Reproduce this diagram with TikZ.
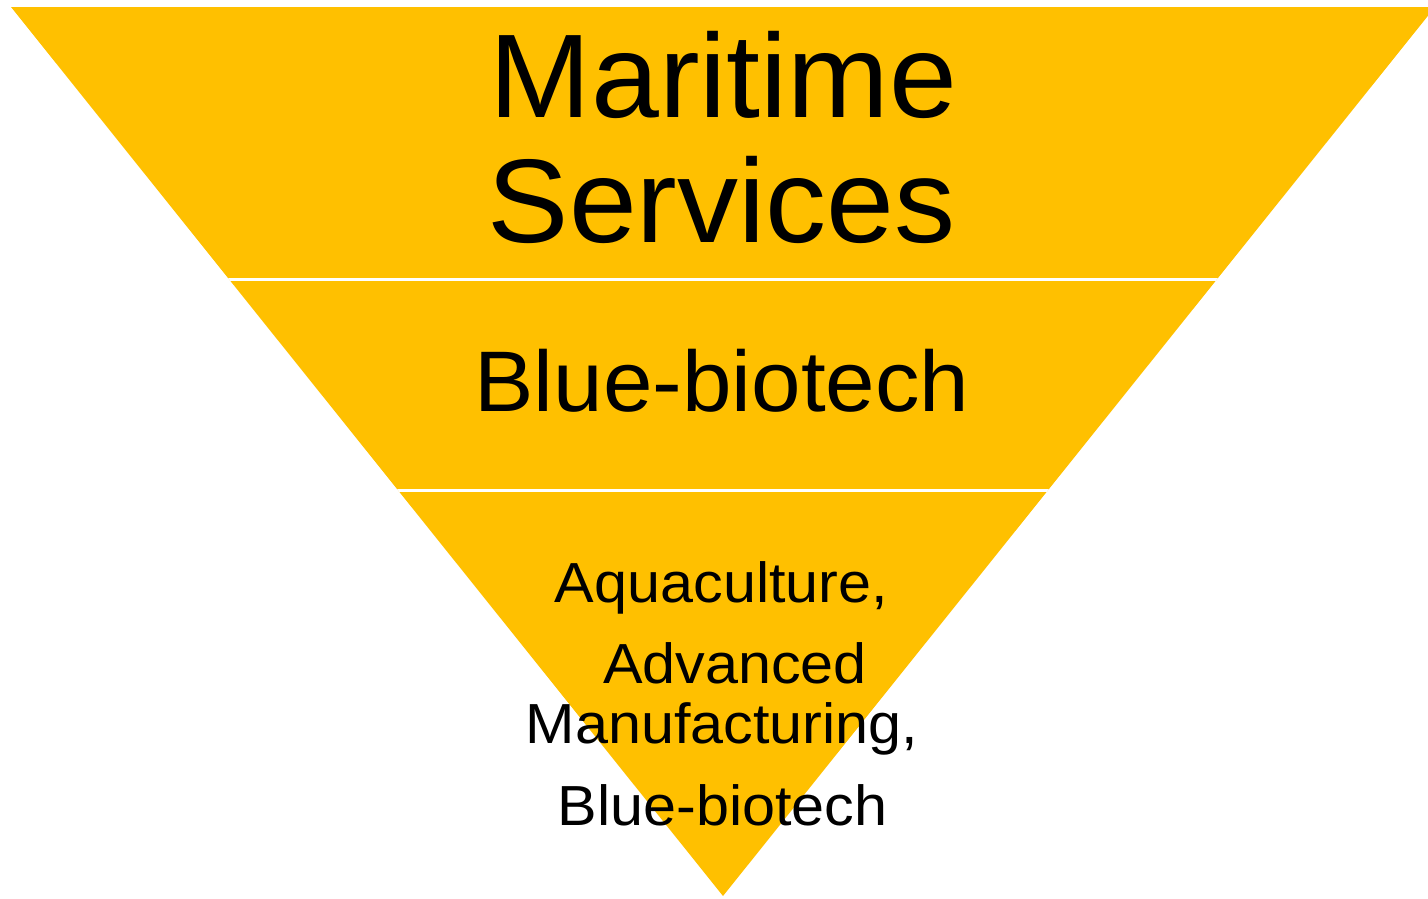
\documentclass[tikz,border=0pt]{standalone}
\usepackage{fontspec}
\setmainfont{Liberation Sans}
\usepackage{graphicx}
\definecolor{gold}{HTML}{FFC000}
\tikzset{
  lbl/.style={anchor=base, inner sep=0pt, text=black},
  big/.style={lbl, font=\fontsize{119bp}{120bp}\selectfont},
  mid/.style={lbl, font=\fontsize{86bp}{88bp}\selectfont},
  small/.style={lbl, font=\fontsize{56.5bp}{58bp}\selectfont},
  sep/.style={white, line width=2.6bp}
}
\begin{document}
\begin{tikzpicture}[x=1bp, y=-1bp]
\useasboundingbox (0,0) rectangle (1428,898);
\clip (0,0) rectangle (1428,898);
\coordinate (tl) at (11,7);
\coordinate (tr) at (1435,7);
\coordinate (ap) at (723,896);
\fill[gold] (tl) -- (tr) -- (ap) -- cycle;
\begin{scope}
  \clip (tl) -- (tr) -- (ap) -- cycle;
  \coordinate (s1l) at (0,279.5);
  \coordinate (s1r) at (1428,279.5);
  \coordinate (s2l) at (0,490.5);
  \coordinate (s2r) at (1428,490.5);
  \draw[sep] (s1l) -- (s1r);
  \draw[sep] (s2l) -- (s2r);
\end{scope}
\node[big] (mar) at (723.5,117) {\scalebox{1.025}[1]{Maritime}};
\node[big] (ser) at (721.5,242) {\scalebox{1.025}[1]{Services}};
\node[mid] (blue1) at (722,411) {\scalebox{1.035}[1]{Blue-biotech}};
\node[small] (aqu) at (721.5,602) {\scalebox{1.05}[1]{Aquaculture,}};
\node[small] (adv) at (735,683) {\scalebox{1.05}[1]{Advanced}};
\node[small] (man) at (722,743) {\scalebox{1.05}[1]{Manufacturing,}};
\node[small] (blue2) at (722.5,825) {\scalebox{1.05}[1]{Blue-biotech}};
\end{tikzpicture}
\end{document}
